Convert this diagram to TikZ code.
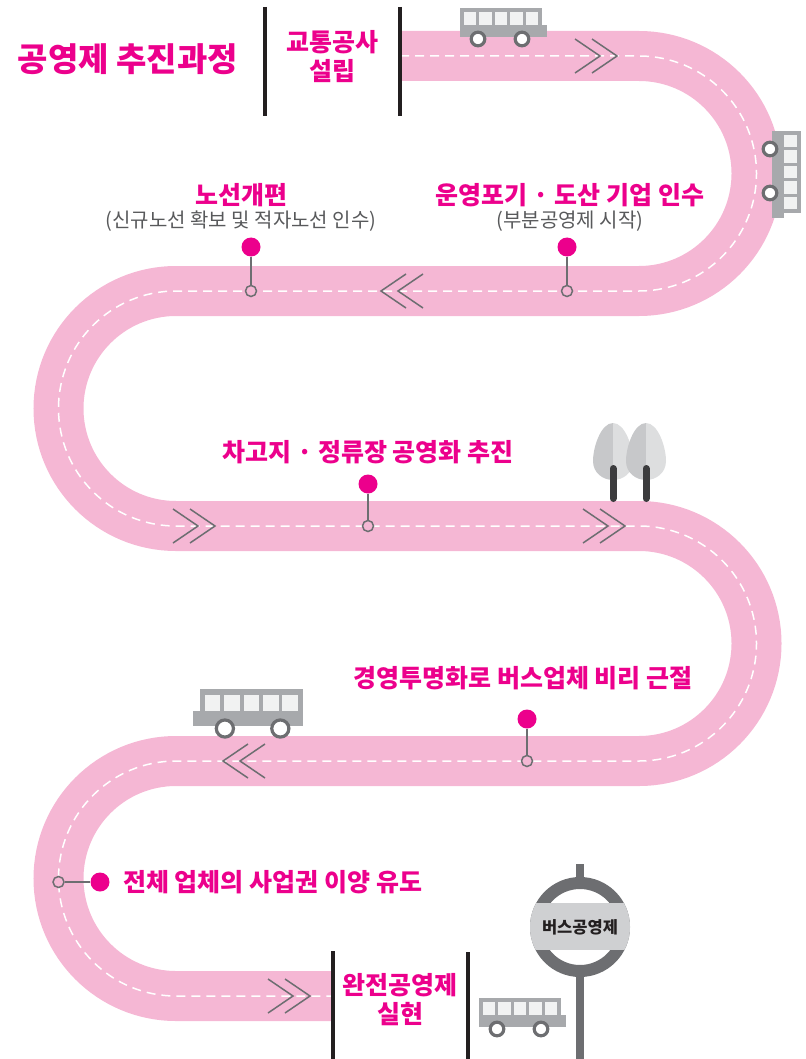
\documentclass[tikz,border=0pt]{standalone}
\usepackage{fontspec}
\setmainfont{Noto Sans CJK KR}
\usepackage{tikz}
\usetikzlibrary{positioning}

\definecolor{roadpink}{RGB}{245,183,212}
\definecolor{hotpink}{RGB}{236,0,140}
\definecolor{roadgray}{RGB}{109,110,113}
\definecolor{busgray}{RGB}{167,169,172}
\definecolor{wingray}{RGB}{241,242,242}
\definecolor{notegray}{RGB}{88,89,91}
\definecolor{barblack}{RGB}{35,31,32}
\definecolor{leafdark}{RGB}{199,200,202}
\definecolor{leaflight}{RGB}{221,222,223}
\definecolor{trunkdark}{RGB}{60,60,62}
\definecolor{signgray}{RGB}{207,208,210}

\tikzset{
  road/.style={roadpink, line width=50pt},
  centerline/.style={white, line width=1.5pt, dash pattern=on 9pt off 6pt},
  bar/.style={barblack, line width=4pt},
  pindot/.style={circle, fill=hotpink, minimum size=19pt, inner sep=0pt},
  pinring/.style={circle, draw=roadgray, fill=roadpink, line width=1.5pt, minimum size=11pt, inner sep=0pt},
  pinline/.style={roadgray, line width=1.5pt},
  heading/.style={text=hotpink, font=\fontsize{25}{29}\selectfont\bfseries, inner sep=0pt},
  note/.style={text=notegray, font=\fontsize{20}{24}\selectfont, inner sep=0pt},
  chevrons/.pic={
    \draw[roadgray, line width=1.5pt] (-42,-17) -- (-17,0) -- (-42,17)
      (-25,-17) -- (0,0) -- (-25,17);
  },
  busicon/.pic={
    \fill[busgray] (0,-29) rectangle (82,0);
    \fill[busgray] (0,-12) rectangle (87,0);
    \foreach \i in {0,...,4}
      \fill[wingray] ({4+\i*15.4},-25) rectangle ++(12.4,13);
    \foreach \w in {18,62}
      \draw[roadgray, line width=3.2pt, fill=white] (\w,2) circle (6.8);
  },
  treeicon/.pic={
    \fill[leafdark] (0,0) .. controls (-12,0) and (-20,24) .. (-20,38)
      .. controls (-20,50) and (-10,57) .. (0,57) -- cycle;
    \fill[leaflight] (0,0) .. controls (12,0) and (20,24) .. (20,38)
      .. controls (20,50) and (10,57) .. (0,57) -- cycle;
    \draw[trunkdark, line width=7pt, line cap=round] (0,45.5) -- (0,75.5);
  }
}

\begin{document}
\begin{tikzpicture}[x=1pt, y=-1pt]
\useasboundingbox (0,0) rectangle (805,1059);

% the winding road
\draw[road] (400,56) -- (639,56) arc (-90:90:117.5) -- (176,291) arc (-90:-270:117.5)
  -- (639,526) arc (-90:90:117.5) -- (176,761) arc (-90:-270:117.5) -- (333,996);
\draw[centerline] (400,56) -- (639,56) arc (-90:90:117.5) -- (176,291) arc (-90:-270:117.5)
  -- (639,526) arc (-90:90:117.5) -- (176,761) arc (-90:-270:117.5) -- (333,996);

\pic at (617,56) {chevrons};
\pic[xscale=-1] at (381,291) {chevrons};
\pic at (215,526) {chevrons};
\pic at (625,526) {chevrons};
\pic[xscale=-1] at (223,761) {chevrons};
\pic at (310,996) {chevrons};

% buses and trees
\pic at (460,37) {busicon};
\pic[rotate=-90] at (772,131) {busicon};
\pic[xscale=-1, scale=1.26] at (303,726) {busicon};
\pic at (479,1027) {busicon};
\pic at (613,423) {treeicon};
\pic at (646,423) {treeicon};

% start and end bars
\draw[bar] (265,7) -- (265,116);
\draw[bar] (400,7) -- (400,116);
\draw[bar] (333,951) -- (333,1059);
\draw[bar] (468,952) -- (468,1059);

% bus stop sign
\draw[roadgray, line width=8pt] (580,864) -- (580,1059);
\draw[roadgray, line width=12pt, fill=white] (580,927) circle (44);
\begin{scope}
  \clip (580,927) circle (50);
  \fill[signgray] (525,903) rectangle (635,950);
\end{scope}
\node[text=barblack, font=\fontsize{16.5}{20}\selectfont\bfseries, inner sep=0pt] (sign) at (580,927) {버스공영제};

% pins
\node[pindot] (p1) at (251,247) {};
\node[pinring] (q1) at (251,291) {};
\draw[pinline] (p1) -- (q1);
\node[pindot] (p2) at (567,247) {};
\node[pinring] (q2) at (567,291) {};
\draw[pinline] (p2) -- (q2);
\node[pindot] (p3) at (368,484) {};
\node[pinring] (q3) at (368,526) {};
\draw[pinline] (p3) -- (q3);
\node[pindot] (p4) at (527,719) {};
\node[pinring] (q4) at (527,761) {};
\draw[pinline] (p4) -- (q4);
\node[pindot] (p5) at (100,882) {};
\node[pinring] (q5) at (58.5,882) {};
\draw[pinline] (p5) -- (q5);

% labels
\node[heading, font=\fontsize{33}{38}\selectfont\bfseries] (title) at (128,59) {공영제 추진과정};
\node[heading, align=center] (corp) at (332,57) {교통공사\\설립};
\node[heading] (reform) at (241,195) {노선개편};
\node[note, below=4pt of reform] (reformnote) {(신규노선 확보 및 적자노선 인수)};
\node[heading] (takeover) at (570,195) {운영포기 · 도산 기업 인수};
\node[note, below=4pt of takeover] (takeovernote) {(부분공영제 시작)};
\node[heading] (depot) at (368,452) {차고지 · 정류장 공영화 추진};
\node[heading] (audit) at (523,678) {경영투명화로 버스업체 비리 근절};
\node[heading, anchor=west] (transfer) at (123,882) {전체 업체의 사업권 이양 유도};
\node[heading, align=center] (full) at (400,1000) {완전공영제\\실현};
\end{tikzpicture}
\end{document}
